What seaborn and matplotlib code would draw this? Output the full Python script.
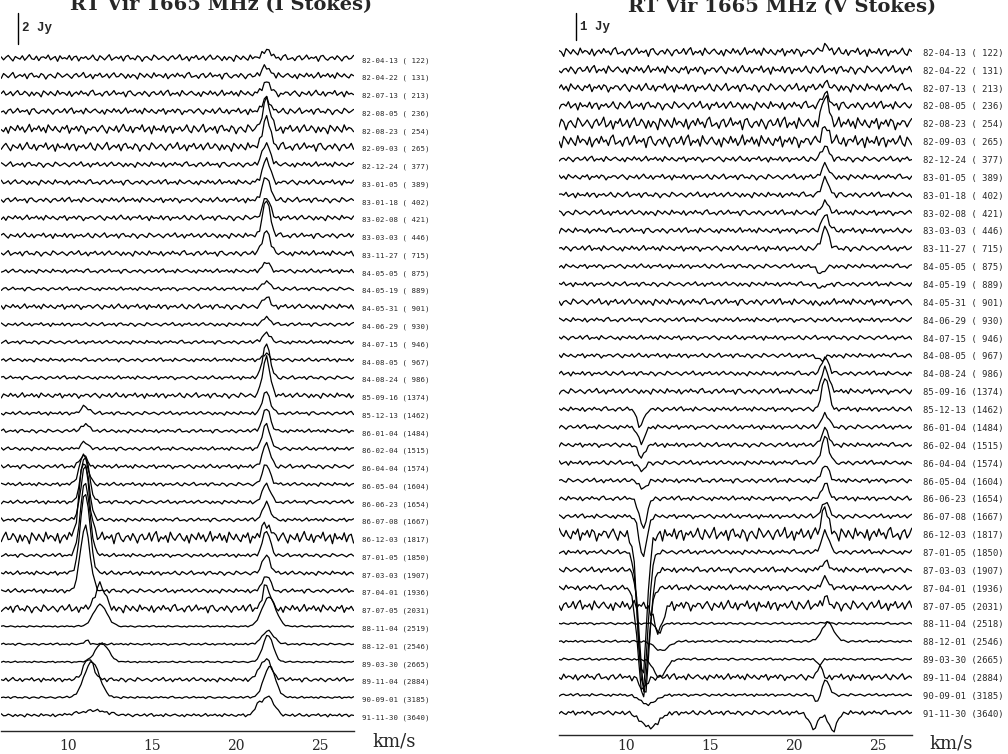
"""
RT Vir 1665 MHz OH maser monitoring: stacked I and V Stokes spectra.
"""

import matplotlib
matplotlib.use("Agg")
import matplotlib.pyplot as plt
import numpy as np
import pandas as pd
import seaborn as sns


DATES = [
    "82-04-13", "82-04-22", "82-07-13", "82-08-05", "82-08-23", "82-09-03",
    "82-12-24", "83-01-05", "83-01-18", "83-02-08", "83-03-03", "83-11-27",
    "84-05-05", "84-05-19", "84-05-31", "84-06-29", "84-07-15", "84-08-05",
    "84-08-24", "85-09-16", "85-12-13", "86-01-04", "86-02-04", "86-04-04",
    "86-05-04", "86-06-23", "86-07-08", "86-12-03", "87-01-05", "87-03-03",
    "87-04-01", "87-07-05", "88-11-04", "88-12-01", "89-03-30", "89-11-04",
    "90-09-01", "91-11-30",
]
I_DAYS = [122, 131, 213, 236, 254, 265, 377, 389, 402, 421, 446, 715, 875, 889,
          901, 930, 946, 967, 986, 1374, 1462, 1484, 1515, 1574, 1604, 1654,
          1667, 1817, 1850, 1907, 1936, 2031, 2519, 2546, 2665, 2884, 3185, 3640]
V_DAYS = [122, 131, 213, 236, 254, 265, 377, 389, 402, 421, 446, 715, 875, 889,
          901, 930, 946, 967, 986, 1374, 1462, 1484, 1515, 1574, 1604, 1654,
          1667, 1817, 1850, 1907, 1936, 2031, 2518, 2546, 2665, 2884, 3185, 3640]

# velocity channels (km/s)
VEL = np.arange(6.0, 27.01, 0.14)

# hand-read noise texture (arbitrary units, rms ~5)
NOISE = [
    3, -5, 2, 7, -1, -8, 4, 0, -3, 6, -6, 1, 9, -2, -4, 5, -7, 2, 3, -1, 8, -5, 0, 4,
    -9, 6, -2, 1, -3, 7, -6, 3, 5, -8, 2, -1, 4, -4, 0, 8, -3, -7, 6, 1, -5, 2, 9, -6,
    -1, 3, -2, 5, -8, 4, 7, -3, 0, -5, 6, 2, -9, 1, 4, -2, -6, 8, 3, -4, 0, 5, -1, -7,
    2, 6, -3, 1, 9, -5, -2, 4, -8, 3, 0, 7, -4, -1, 5, -6, 2, 8, -3, -2, 6, 1, -7, 4,
    -5, 3, 0, -9, 7, 2, -4, 5, -1, -6, 8, -2, 3, 1, -5, 6, -8, 0, 4, -3, 7, -1, 2, -6,
    5, 9, -4, -2, 1, -7, 3, 6, -5, 0, 8, -3, 2, -1, 4, -9, 5, 7, -2, -6, 1, 3, -4, 6,
    0, -8, 2, 5, -3, -1, 7, -5, 4, 9, -6, 1, -2, 3, -7, 8, 0, -4, 2, 6, -1, -5, 3, -8,
    5, 1, -3, 7, -2, 4, -6, 0, 9, -5, 2, -1, 6, -4, 3, -7, 8, 1, -3, 5, -2, -6, 4, 0,
    7, -8, 2, -1, 5, -4, 6, 3, -9, 1, -2, 4,
]

# ---- I Stokes (Jy) ----
I_NOISE = [0.12, 0.12, 0.12, 0.12, 0.17, 0.16, 0.10, 0.10, 0.10, 0.10, 0.10, 0.10,
           0.08, 0.07, 0.10, 0.07, 0.07, 0.07, 0.07, 0.10, 0.07, 0.07, 0.07, 0.08,
           0.07, 0.07, 0.07, 0.22, 0.07, 0.08, 0.08, 0.15, 0.03, 0.04, 0.03, 0.08,
           0.04, 0.06]
# feature near 21.8 km/s
I_RED_AMP = [0.56, 0.58, 0.77, 0.85, 1.9, 1.9, 1.4, 1.5, 1.55, 1.3, 2.3, 1.5,
             0.56, 0.5, 0.58, 0.43, 0.62, 0.37, 2.2, 2.4, 1.4, 1.5, 1.6, 1.5,
             1.3, 1.2, 1.1, 1.0, 1.6, 1.2, 1.0, 1.5, 1.9, 0.85, 1.75, 1.3,
             2.0, 1.2]
I_RED_VEL = [21.8] * 32 + [21.95, 21.9, 21.9, 21.75, 22.0, 21.9]
I_RED_WID = [0.22] * 32 + [0.40, 0.35, 0.30, 0.35, 0.35, 0.35]
# feature near 11 km/s
I_BLUE_AMP = [0.0] * 20 + [0.45, 0.45, 0.4, 0.7, 1.9, 3.0, 3.5, 5.0, 4.7, 5.2,
                           4.2, 1.5, 1.4, 0.3, 1.2, 1.35, 2.3, 0.3]
I_BLUE_VEL = [11.0] * 20 + [11.0, 11.0, 11.0, 10.9, 10.9, 11.0, 11.0, 10.95, 11.0,
                            11.0, 11.0, 11.9, 11.9, 11.1, 12.0, 11.2, 11.4, 11.5]
I_BLUE_WID = [0.22] * 20 + [0.22, 0.22, 0.22, 0.22, 0.25, 0.25, 0.25, 0.28, 0.28,
                            0.28, 0.28, 0.30, 0.40, 0.12, 0.40, 0.30, 0.45, 0.80]
# extra shoulder component
I_EXTRA_AMP = [0.0] * 37 + [0.5]
I_EXTRA_VEL = [21.3] * 38
I_EXTRA_WID = [0.2] * 38

# ---- V Stokes (Jy) ----
V_NOISE = [0.09, 0.09, 0.09, 0.09, 0.13, 0.13, 0.06, 0.06, 0.06, 0.06, 0.06, 0.06,
           0.05, 0.05, 0.07, 0.05, 0.05, 0.05, 0.05, 0.06, 0.05, 0.05, 0.05, 0.05,
           0.05, 0.05, 0.05, 0.14, 0.05, 0.06, 0.06, 0.11, 0.025, 0.025, 0.025,
           0.07, 0.03, 0.05]
V_RED_AMP = [0.25, 0.0, 0.15, 0.45, 1.0, 0.55, 0.5, 0.45, 0.6, 0.4, 0.6, 0.8,
             -0.3, -0.15, -0.1, 0.0, 0.0, -0.2, 0.6, 0.9, 1.2, 0.5, 0.6, 1.0,
             0.6, 0.55, 0.55, 1.0, 0.8, 0.3, 0.35, 0.25, 0.05, 0.7, -0.2, 0.45,
             0.55, -0.65]
V_RED_VEL = [21.85] * 12 + [21.6] * 6 + [21.85] * 14 + [21.9, 22.0, 21.5, 21.5, 21.9, 22.3]
V_RED_WID = [0.2] * 32 + [0.2, 0.35, 0.15, 0.12, 0.2, 0.25]
V_BLUE_AMP = [0.0] * 20 + [-0.65, -0.6, -0.45, -0.3, -0.3, -1.1, -1.5, -5.2, -5.0,
                           -4.6, -4.0, -1.0, -0.35, -0.35, -0.68, -0.4, -0.35, -0.55]
V_BLUE_VEL = [11.0] * 20 + [10.85, 10.9, 10.9, 10.9, 11.0, 11.0, 11.0, 10.95, 11.0,
                            11.1, 11.0, 11.9, 11.95, 12.1, 12.0, 11.0, 11.3, 11.4]
V_BLUE_WID = [0.2] * 20 + [0.2, 0.2, 0.2, 0.2, 0.2, 0.22, 0.22, 0.28, 0.28, 0.28,
                           0.30, 0.25, 0.15, 0.40, 0.35, 0.25, 0.45, 0.50]
V_EXTRA_AMP = [0.0] * 36 + [-0.3, -0.6]
V_EXTRA_VEL = [21.3] * 36 + [21.35, 21.15]
V_EXTRA_WID = [0.15] * 36 + [0.12, 0.25]

I_STEP = 1.146   # Jy between stacked spectra
V_STEP = 0.6615


def _line(v0, amp, wid):
    return amp * np.exp(-0.5 * ((VEL - v0) / wid) ** 2)


def build_frame(noise_lvl, comps, step, shift):
    noise = np.array(NOISE, dtype=float)
    frames = []
    for i, lvl in enumerate(noise_lvl):
        idx = np.arange(len(VEL)) + i * 41 + shift
        flux = np.take(noise, idx, mode="wrap") * lvl / 5.0
        for amp, vel, wid in comps:
            flux = flux + _line(vel[i], amp[i], wid[i])
        frames.append(pd.DataFrame({"vel": VEL, "y": flux - i * step, "row": i}))
    return pd.concat(frames, ignore_index=True)


def style_axis(ax, pad):
    for side in ("top", "left", "right"):
        ax.spines[side].set_visible(False)
    ax.spines["bottom"].set_linewidth(1.0)
    ax.set_xlim(6, 27)
    ax.set_xticks([10, 15, 20, 25])
    ax.set_xticks(np.arange(6, 28, 1), minor=True)
    ax.set_yticks([])
    ax.tick_params(axis="x", which="major", direction="in", length=5, width=1,
                   pad=pad, labelsize=10)
    ax.tick_params(axis="x", which="minor", direction="in", length=2.5, width=0.8)
    for lab in ax.get_xticklabels():
        lab.set_family("DejaVu Serif")
    ax.set_xlabel("")
    ax.set_ylabel("")
    ax.patch.set_alpha(0)


def main() -> None:
    sns.set_style("white")
    W, H = 1008, 754
    fig = plt.figure(figsize=(W / 100, H / 100), dpi=100)

    # left panel: I Stokes, 15.5 px per Jy, first baseline at y=58 px
    ax_i = fig.add_axes([1.2 / W, (H - 731) / H, 352.4 / W, 731 / H])
    df_i = build_frame(
        I_NOISE,
        [(I_RED_AMP, I_RED_VEL, I_RED_WID), (I_BLUE_AMP, I_BLUE_VEL, I_BLUE_WID),
         (I_EXTRA_AMP, I_EXTRA_VEL, I_EXTRA_WID)],
        I_STEP, 0)
    sns.lineplot(data=df_i, x="vel", y="y", units="row", estimator=None,
                 color="black", linewidth=0.9, ax=ax_i, legend=False)
    ax_i.set_ylim(-(731 - 58) / 15.5, 58 / 15.5)
    style_axis(ax_i, 6)
    for i, (d, n) in enumerate(zip(DATES, I_DAYS)):
        ax_i.text(27.5, -i * I_STEP - 0.15, f"{d} ({n:4d})", fontsize=5.3,
                  family="DejaVu Sans Mono", va="center", ha="left", clip_on=False)
    ax_i.plot([7.02, 7.02], [0.9, 2.9], color="black", lw=1.0, clip_on=False)
    fig.text(22 / W, 1 - 28 / H, "2 Jy", fontsize=9, family="Liberation Mono",
             weight="bold", va="center", ha="left")
    fig.text(221 / W, 1 - 10 / H, "RT Vir 1665 MHz (I Stokes)", fontsize=14,
             family="DejaVu Serif", weight="bold", ha="center", va="baseline")
    fig.text(372 / W, 1 - 747 / H, "km/s", fontsize=13, family="DejaVu Serif",
             ha="left", va="baseline")

    # right panel: V Stokes, 27 px per Jy, first baseline at y=52 px
    ax_v = fig.add_axes([559 / W, (H - 735) / H, 352.8 / W, 735 / H])
    df_v = build_frame(
        V_NOISE,
        [(V_RED_AMP, V_RED_VEL, V_RED_WID), (V_BLUE_AMP, V_BLUE_VEL, V_BLUE_WID),
         (V_EXTRA_AMP, V_EXTRA_VEL, V_EXTRA_WID)],
        V_STEP, 97)
    sns.lineplot(data=df_v, x="vel", y="y", units="row", estimator=None,
                 color="black", linewidth=0.9, ax=ax_v, legend=False)
    ax_v.set_ylim(-(735 - 52) / 27.0, 52 / 27.0)
    style_axis(ax_v, 3)
    for i, (d, n) in enumerate(zip(DATES, V_DAYS)):
        ax_v.text(27.65, -i * V_STEP - 0.05, f"{d} ({n:4d})", fontsize=6.4,
                  family="DejaVu Sans Mono", va="center", ha="left", clip_on=False)
    ax_v.plot([7.0, 7.0], [0.444, 1.456], color="black", lw=1.0, clip_on=False)
    fig.text(580 / W, 1 - 27 / H, "1 Jy", fontsize=9, family="Liberation Mono",
             weight="bold", va="center", ha="left")
    fig.text(782 / W, 1 - 12 / H, "RT Vir 1665 MHz (V Stokes)", fontsize=14,
             family="DejaVu Serif", weight="bold", ha="center", va="baseline")
    fig.text(929 / W, 1 - 749 / H, "km/s", fontsize=13, family="DejaVu Serif",
             ha="left", va="baseline")

    fig.savefig("out.png", dpi=100, facecolor="white")
    plt.close(fig)


if __name__ == "__main__":
    main()
